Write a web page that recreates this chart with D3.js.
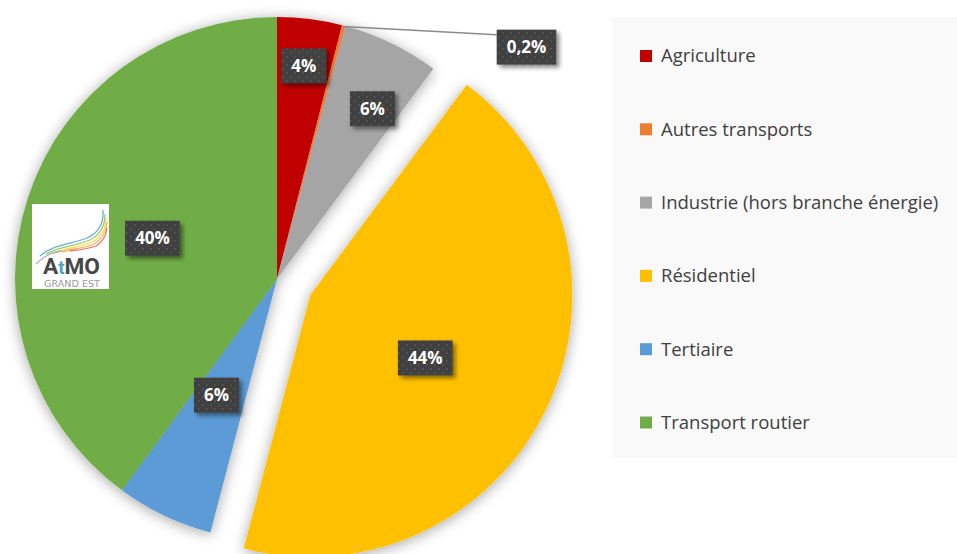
<!DOCTYPE html>
<html>
<head>
<meta charset="utf-8">
<script src="https://cdn.jsdelivr.net/npm/d3@7"></script>
<style>
  html, body { margin: 0; padding: 0; background: #ffffff; }
  svg { display: block; }
</style>
</head>
<body>
<svg id="chart" width="957" height="554"></svg>
<script>
// Emission shares by sector (percent)
const categories = [
  "Agriculture",
  "Autres transports",
  "Industrie (hors branche énergie)",
  "Résidentiel",
  "Tertiaire",
  "Transport routier"
];
const shares = [4, 0.2, 6, 44, 6, 40];
const palette = ["#C00000", "#ED7D31", "#A5A5A5", "#FFC000", "#5B9BD5", "#70AD47"];
const explodedCategory = "Résidentiel";

const W = 957, H = 554;
const cx = 277, cy = 279, R = 262;
const explodeDist = 37;

const svg = d3.select("#chart");
const defs = svg.append("defs");

// soft glow beneath the pie
const glow = defs.append("filter").attr("id", "pieShadow")
  .attr("x", "-20%").attr("y", "-20%").attr("width", "140%").attr("height", "140%");
glow.append("feGaussianBlur").attr("in", "SourceAlpha").attr("stdDeviation", 7).attr("result", "b");
glow.append("feOffset").attr("in", "b").attr("dx", 0).attr("dy", 2).attr("result", "o");
glow.append("feComponentTransfer").attr("in", "o").attr("result", "s")
  .append("feFuncA").attr("type", "linear").attr("slope", 0.36);
const gm = glow.append("feMerge");
gm.append("feMergeNode").attr("in", "s");
gm.append("feMergeNode").attr("in", "SourceGraphic");

// drop shadow for the value boxes
const boxShadow = defs.append("filter").attr("id", "boxShadow")
  .attr("x", "-30%").attr("y", "-30%").attr("width", "170%").attr("height", "170%");
boxShadow.append("feDropShadow").attr("dx", 3).attr("dy", 3)
  .attr("stdDeviation", 2.2).attr("flood-color", "#000").attr("flood-opacity", 0.45);

// dotted texture for the value boxes
const pat = defs.append("pattern").attr("id", "dots")
  .attr("width", 8).attr("height", 8).attr("patternUnits", "userSpaceOnUse");
pat.append("rect").attr("width", 8).attr("height", 8).attr("fill", "#404040");
pat.append("circle").attr("cx", 2).attr("cy", 2).attr("r", 0.9).attr("fill", "#585858");
pat.append("circle").attr("cx", 6).attr("cy", 6).attr("r", 0.9).attr("fill", "#585858");

const color = d3.scaleOrdinal(categories, palette);

const table = categories.map((c, i) => ({ category: c, value: shares[i] }));
const pie = d3.pie().value(d => d.value).sort(null).startAngle(0).endAngle(2 * Math.PI);
const arcs = pie(table);
const arc = d3.arc().innerRadius(0).outerRadius(R);

const polar = (a, r) => [r * Math.sin(a), -r * Math.cos(a)];
const offsetOf = d => d.data.category === explodedCategory
  ? polar((d.startAngle + d.endAngle) / 2, explodeDist) : [0, 0];

// slices
const pieG = svg.append("g").attr("transform", `translate(${cx},${cy})`)
  .attr("filter", "url(#pieShadow)");
pieG.selectAll("path").data(arcs).join("path")
  .attr("transform", d => `translate(${offsetOf(d)})`)
  .attr("d", arc)
  .attr("fill", d => color(d.data.category));

// logo badge
const logo = svg.append("g").attr("transform", "translate(32,204)");
logo.append("rect").attr("width", 77).attr("height", 85).attr("fill", "#ffffff");
const swoosh = [
  ["#4aa3c8", "M8,52 C22,40 40,40 55,34 C66,29 72,20 71,6"],
  ["#8cc152", "M14,50 C28,42 44,42 58,36 C68,31 73,22 73,10"],
  ["#f6d33c", "M22,49 C34,44 48,43 60,38 C70,33 74,25 74,14"],
  ["#f39c34", "M30,48 C40,45 52,44 62,40 C71,35 74,28 75,18"],
  ["#e05a4f", "M38,47 C46,46 56,45 64,42 C71,38 74,32 75,24"],
  ["#9aa7b0", "M4,60 C14,50 22,48 30,47"]
];
logo.selectAll("path.sw").data(swoosh).join("path").attr("class", "sw")
  .attr("d", d => d[1]).attr("fill", "none").attr("stroke", d => d[0])
  .attr("stroke-width", 1.3).attr("opacity", 0.85);
const atmo = logo.append("text").attr("x", 11).attr("y", 70)
  .attr("font-family", "Roboto, 'Open Sans', sans-serif").attr("font-weight", 700)
  .attr("font-size", 22).attr("fill", "#474747")
  .attr("textLength", 57).attr("lengthAdjust", "spacingAndGlyphs");
atmo.append("tspan").text("A");
atmo.append("tspan").attr("fill", "#4aa3c8").attr("font-size", 18).text("t");
atmo.append("tspan").text("MO");
logo.append("text").attr("x", 12).attr("y", 82.5)
  .attr("font-family", "'DejaVu Sans Condensed', sans-serif").attr("font-size", 9.5)
  .attr("fill", "#9a9a9a").attr("textLength", 56).attr("lengthAdjust", "spacingAndGlyphs")
  .text("GRAND EST");

// value labels: radial position as a fraction of the radius, or outside with a leader
const deg = Math.PI / 180;
const labelPlacement = {
  "Agriculture": { r: 0.82 },
  "Autres transports": { outside: true, angle: 47.1 * deg, r: 1.30 },
  "Industrie (hors branche énergie)": { r: 0.745, turn: 3.4 * deg },
  "Résidentiel": { r: 0.5, turn: 3 * deg },
  "Tertiaire": { r: 0.5, turn: 2 * deg },
  "Transport routier": { r: 0.5 }
};
const fmt = v => String(v).replace(".", ",") + "%";

const labG = svg.append("g").attr("transform", `translate(${cx},${cy})`);
arcs.forEach(d => {
  const p = labelPlacement[d.data.category];
  const mid = (d.startAngle + d.endAngle) / 2;
  const off = offsetOf(d);
  let pos;
  if (p.outside) pos = polar(p.angle, p.r * R);
  else {
    const q = polar(mid + (p.turn || 0), p.r * R);
    pos = [q[0] + off[0], q[1] + off[1]];
  }
  const g = labG.append("g");
  const t = g.append("text")
    .attr("x", pos[0]).attr("y", pos[1]).attr("dy", "0.36em")
    .attr("text-anchor", "middle")
    .attr("font-family", "'Open Sans', sans-serif").attr("font-weight", 700)
    .attr("font-size", 17).attr("fill", "#ffffff")
    .text(fmt(d.data.value));
  const w = t.node().getComputedTextLength() + 20;
  const h = 35;
  const bx = pos[0] - w / 2, by = pos[1] - h / 2;
  if (p.outside) {
    const a = polar(mid, R - 1);
    labG.insert("line", "g")
      .attr("x1", a[0]).attr("y1", a[1])
      .attr("x2", bx).attr("y2", by + 5)
      .attr("stroke", "#8c8c8c").attr("stroke-width", 1.5);
  }
  g.insert("rect", "text")
    .attr("x", bx).attr("y", by).attr("width", w).attr("height", h)
    .attr("fill", "url(#dots)").attr("filter", "url(#boxShadow)");
});

// legend
const legend = svg.append("g");
legend.append("rect").attr("x", 612).attr("y", 17).attr("width", W - 612).attr("height", 441)
  .attr("fill", "#f9f9f9");
const ly = d3.scalePoint().domain(categories).range([56, 422.5]);
const items = legend.selectAll("g.item").data(categories).join("g").attr("class", "item")
  .attr("transform", c => `translate(640,${ly(c)})`);
items.append("rect").attr("x", 0).attr("y", -6).attr("width", 12).attr("height", 12)
  .attr("fill", c => color(c));
items.append("text").attr("x", 21).attr("y", 0).attr("dy", "0.35em")
  .attr("font-family", "'Open Sans', sans-serif").attr("font-size", 18.5)
  .attr("fill", "#404040").text(c => c);
</script>
</body>
</html>
